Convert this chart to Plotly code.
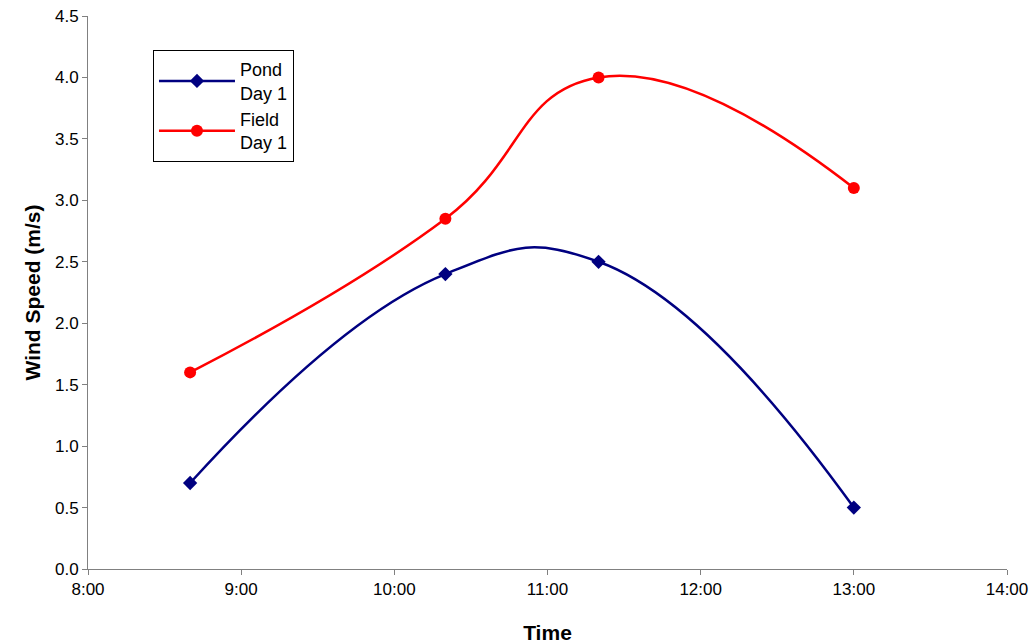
import plotly.graph_objects as go

times = ["8:40", "10:20", "11:20", "13:00"]
pond_day1 = [0.7, 2.4, 2.5, 0.5]
field_day1 = [1.6, 2.85, 4.0, 3.1]
tick_labels = ["8:00", "9:00", "10:00", "11:00", "12:00", "13:00", "14:00"]


def to_hours(s):
    h, m = s.split(":")
    return int(h) + int(m) / 60.0


x = [to_hours(t) for t in times]
tick_vals = [to_hours(t) for t in tick_labels]

fig = go.Figure()
fig.add_trace(go.Scatter(
    x=x, y=pond_day1, name="Pond<br>Day 1", mode="lines+markers",
    line=dict(color="#000080", width=2.5, shape="spline", smoothing=1.3),
    marker=dict(symbol="diamond", size=11, color="#000080"),
))
fig.add_trace(go.Scatter(
    x=x, y=field_day1, name="Field<br>Day 1", mode="lines+markers",
    line=dict(color="#FF0000", width=2.5, shape="spline", smoothing=1.3),
    marker=dict(symbol="circle", size=12, color="#FF0000"),
))

fig.update_layout(
    width=1034, height=644,
    margin=dict(l=88, r=27, t=16, b=75, autoexpand=False),
    paper_bgcolor="white", plot_bgcolor="white",
    font=dict(family="Liberation Sans, Arial, sans-serif", size=17, color="black"),
    showlegend=True,
    legend=dict(
        x=0.0707, y=0.9385, xanchor="left", yanchor="top",
        bgcolor="white", bordercolor="black", borderwidth=1,
        font=dict(size=18), itemwidth=76, tracegroupgap=2,
    ),
)
fig.update_xaxes(
    range=[8, 14], tickvals=tick_vals, ticktext=tick_labels,
    showgrid=False, zeroline=False, automargin=False,
    showline=True, linecolor="#808080", linewidth=1,
    ticks="outside", ticklen=5, tickcolor="#808080",
    title=dict(text="<b>Time</b>", font=dict(size=21), standoff=26),
)
fig.update_yaxes(
    range=[0, 4.5], dtick=0.5, tickformat=".1f",
    showgrid=False, zeroline=False, automargin=False,
    showline=True, linecolor="#808080", linewidth=1,
    ticks="outside", ticklen=5, tickcolor="#808080",
    title=dict(text="<b>Wind Speed (m/s)</b>", font=dict(size=21), standoff=8),
)

fig.write_html(
    "out.html",
    config={"displayModeBar": False},
    post_script="document.body.style.margin='0';document.body.style.overflow='hidden';",
)
